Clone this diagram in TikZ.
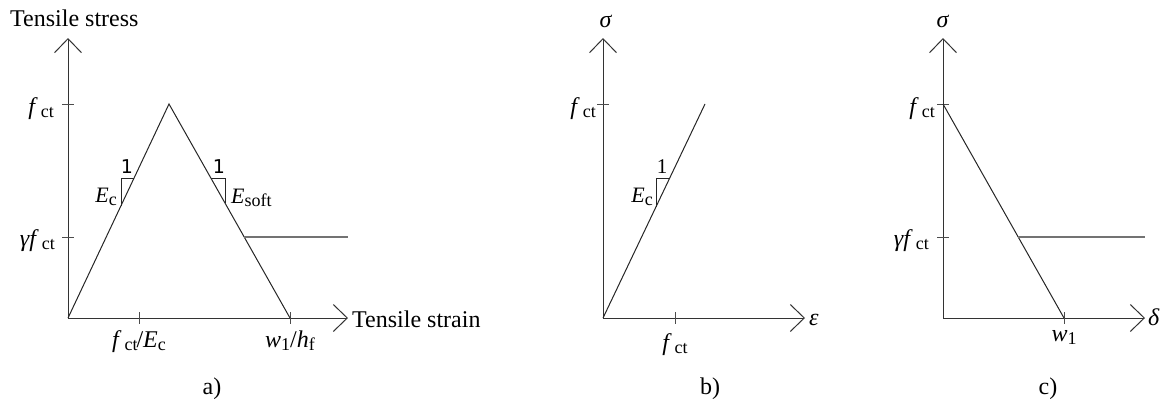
\documentclass[tikz,border=0pt]{standalone}
\usepackage{fontspec}
\setmainfont{Liberation Serif}
\newfontfamily\dejavu{DejaVu Sans}
\usetikzlibrary{arrows.meta}
\newcommand\lsub[1]{\raisebox{-3pt}{\fontsize{18}{18}\selectfont #1}}
\newcommand\fct{\textit{f}\kern3pt\lsub{ct}}
\newcommand\Ec{\textit{E}\lsub{c}}
\begin{document}
\begin{tikzpicture}[x=1pt,y=-1pt,
  lbl/.style={inner sep=0pt, anchor=base, font=\fontsize{24}{27}\selectfont},
  elbl/.style={inner sep=0pt, anchor=base, font=\fontsize{22}{25}\selectfont},
  axis/.style={line width=1pt, draw=black!80, -{Straight Barb[length=14pt,width=27pt,line width=1pt]}},
  curve/.style={line width=1pt, draw=black!85},
  resid/.style={line width=1.6pt, draw=black!55},
  tickm/.style={line width=1pt, draw=black!70},
  tri/.style={line width=0.9pt, draw=black!85},
]
\useasboundingbox (0,0) rectangle (1162,402);
% ---------- panel a ----------
\coordinate (Oa) at (68,318);
\coordinate (Ya) at (68,38);
\coordinate (Xa) at (348,318);
\coordinate (Pa) at (169,104);
\coordinate (Wa) at (290,318);
\coordinate (ta1) at (68,104);
\coordinate (ta2) at (68,237);
\coordinate (tx1) at (139,318);
\coordinate (Ra) at (244,237);
\coordinate (Ra2) at (348,237);
\draw[axis] (Oa) -- (Ya);
\draw[axis] (Oa) -- (Xa);
\draw[tickm] ([xshift=-6pt]ta1) -- ([xshift=6pt]ta1);
\draw[tickm] ([xshift=-6pt]ta2) -- ([xshift=6pt]ta2);
\draw[tickm] ([yshift=6pt]tx1) -- ([yshift=-6pt]tx1);
\draw[tickm] ([yshift=6pt]Wa) -- ([yshift=-6pt]Wa);
\draw[curve] (Oa) -- (Pa) -- (Wa);
\draw[resid] (Ra) -- (Ra2);
\coordinate (ta_a) at (121,205.7);
\coordinate (ta_b) at (121,178);
\coordinate (ta_c) at (134.1,178);
\draw[tri] (ta_a) -- (ta_b) -- (ta_c);
\coordinate (td_a) at (210.5,178);
\coordinate (td_b) at (225,178);
\coordinate (td_c) at (225,203);
\draw[tri] (td_a) -- (td_b) -- (td_c);
\node[lbl, anchor=base west] (tstress) at (10,26) {Tensile stress};
\node[lbl, anchor=base west] (tstrain) at (352,327) {Tensile strain};
\node[lbl, anchor=base east] (la1) at (54,114) {\fct};
\node[lbl, anchor=base east] (la2) at (55,246) {\textit{γf}\kern3pt\lsub{ct}};
\node[lbl] (lx1) at (139,347) {\fct\kern-1pt/\textit{E}\lsub{c}};
\node[lbl] (lx2) at (290,347) {\textit{w}\lsub{1}/\textit{h}\lsub{f}};
\node[inner sep=0pt, anchor=base, font=\dejavu\fontsize{19}{22}\selectfont] (one1) at (127,173) {1};
\node[inner sep=0pt, anchor=base, font=\dejavu\fontsize{19}{22}\selectfont] (one2) at (219,173) {1};
\node[elbl, anchor=base east] (ec1) at (117,202) {\Ec};
\node[elbl, anchor=base west] (esoft) at (231,203) {\textit{E}\lsub{soft}};
\node[lbl] (capa) at (212,394) {a)};
% ---------- panel b ----------
\coordinate (Ob) at (603,318);
\coordinate (Yb) at (603,38);
\coordinate (Xb) at (805,318);
\coordinate (Pb) at (705,104);
\coordinate (tb1) at (603,104);
\coordinate (tbx) at (675,318);
\draw[axis] (Ob) -- (Yb);
\draw[axis] (Ob) -- (Xb);
\draw[tickm] ([xshift=-6pt]tb1) -- ([xshift=6pt]tb1);
\draw[tickm] ([yshift=6pt]tbx) -- ([yshift=-6pt]tbx);
\draw[curve] (Ob) -- (Pb);
\coordinate (tbb_a) at (656,207.1);
\coordinate (tbb_b) at (656,178);
\coordinate (tbb_c) at (669.7,178);
\draw[tri] (tbb_a) -- (tbb_b) -- (tbb_c);
\node[lbl] (sigb) at (606,27) {\textit{σ}};
\node[lbl, anchor=base west] (epsb) at (809,325) {\textit{ε}};
\node[lbl, anchor=base east] (lb1) at (596,114) {\fct};
\node[lbl] (lbx) at (675,350) {\fct};
\node[lbl, font=\fontsize{21}{24}\selectfont] (oneb) at (662,173) {1};
\node[elbl, anchor=base east] (ecb) at (653,202) {\Ec};
\node[lbl] (capb) at (710,394) {b)};
% ---------- panel c ----------
\coordinate (Oc) at (943,318);
\coordinate (Yc) at (943,38);
\coordinate (Xc) at (1145,318);
\coordinate (Pc) at (943,104);
\coordinate (Wc) at (1064,318);
\coordinate (tc2) at (943,237);
\coordinate (Rc) at (1018,237);
\coordinate (Rc2) at (1145,237);
\draw[axis] (Oc) -- (Yc);
\draw[axis] (Oc) -- (Xc);
\draw[tickm] ([xshift=-6pt]Pc) -- ([xshift=6pt]Pc);
\draw[tickm] ([xshift=-6pt]tc2) -- ([xshift=6pt]tc2);
\draw[tickm] ([yshift=6pt]Wc) -- ([yshift=-6pt]Wc);
\draw[curve] (Pc) -- (Wc);
\draw[resid] (Rc) -- (Rc2);
\node[lbl] (sigc) at (943,27) {\textit{σ}};
\node[lbl, anchor=base west] (delc) at (1148,325) {\textit{δ}};
\node[lbl, anchor=base east] (lc1) at (935,114) {\fct};
\node[lbl, anchor=base east] (lc2) at (929,246) {\textit{γf}\kern3pt\lsub{ct}};
\node[lbl] (lcx) at (1064,341) {\textit{w}\lsub{1}};
\node[lbl] (capc) at (1048,394) {c)};
\end{tikzpicture}
\end{document}
